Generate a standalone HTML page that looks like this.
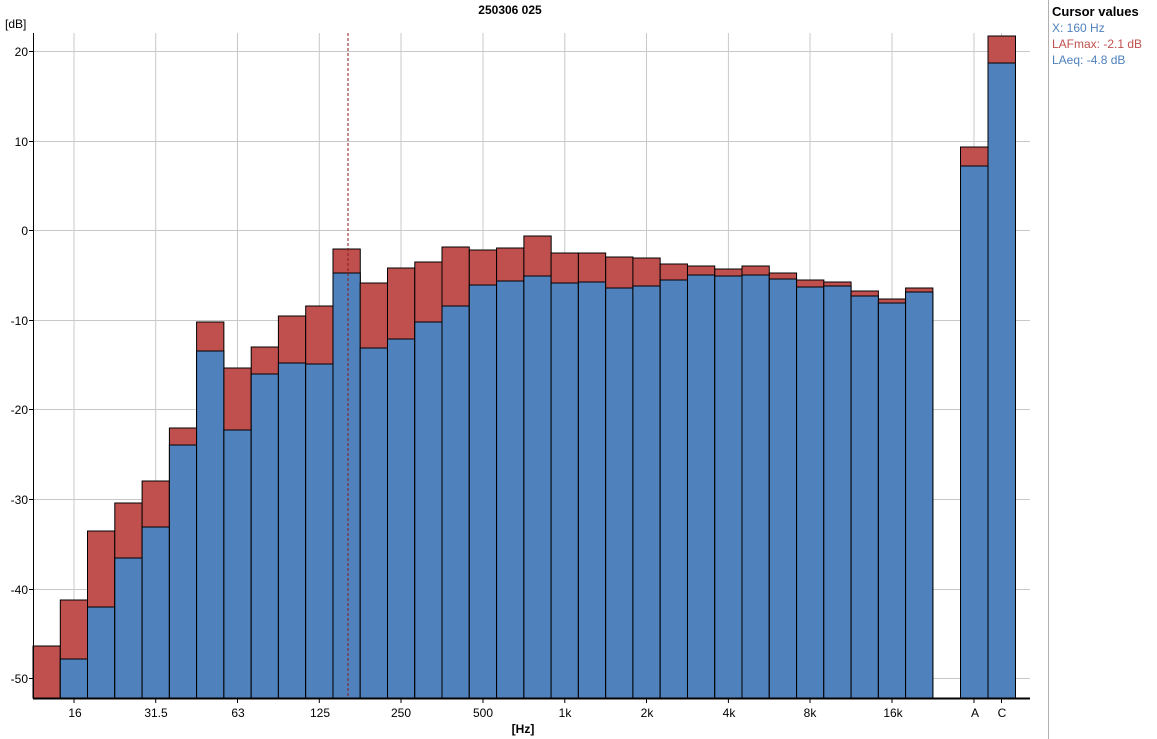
<!DOCTYPE html><html><head><meta charset="utf-8"><style>body{margin:0;background:#fff}svg{display:block;font-family:"Liberation Sans","DejaVu Sans",sans-serif}</style></head><body>
<svg width="1157" height="739" xmlns="http://www.w3.org/2000/svg">
<rect width="1157" height="739" fill="#fff"/>
<g stroke="#c8c8c8" stroke-width="1">
<line x1="33" y1="51.5" x2="1030" y2="51.5"/><line x1="33" y1="141.5" x2="1030" y2="141.5"/><line x1="33" y1="230.5" x2="1030" y2="230.5"/><line x1="33" y1="320.5" x2="1030" y2="320.5"/><line x1="33" y1="409.5" x2="1030" y2="409.5"/><line x1="33" y1="499.5" x2="1030" y2="499.5"/><line x1="33" y1="589.5" x2="1030" y2="589.5"/><line x1="33" y1="678.5" x2="1030" y2="678.5"/>
<line x1="74" y1="33" x2="74" y2="698"/><line x1="155.7" y1="33" x2="155.7" y2="698"/><line x1="237.5" y1="33" x2="237.5" y2="698"/><line x1="319.3" y1="33" x2="319.3" y2="698"/><line x1="401" y1="33" x2="401" y2="698"/><line x1="483" y1="33" x2="483" y2="698"/><line x1="564.8" y1="33" x2="564.8" y2="698"/><line x1="646.5" y1="33" x2="646.5" y2="698"/><line x1="728.4" y1="33" x2="728.4" y2="698"/><line x1="810" y1="33" x2="810" y2="698"/><line x1="892" y1="33" x2="892" y2="698"/><line x1="974" y1="33" x2="974" y2="698"/><line x1="1001.5" y1="33" x2="1001.5" y2="698"/>
</g>
<g stroke="#000" stroke-width="1">
<rect x="33" y="646" width="27.27" height="52" fill="#c0504d"/>
<rect x="60.3" y="600" width="27.27" height="98" fill="#c0504d"/><rect x="60.3" y="659" width="27.27" height="39" fill="#4f81bd"/>
<rect x="87.5" y="531" width="27.27" height="167" fill="#c0504d"/><rect x="87.5" y="607" width="27.27" height="91" fill="#4f81bd"/>
<rect x="114.8" y="503" width="27.27" height="195" fill="#c0504d"/><rect x="114.8" y="558" width="27.27" height="140" fill="#4f81bd"/>
<rect x="142.1" y="481" width="27.27" height="217" fill="#c0504d"/><rect x="142.1" y="527" width="27.27" height="171" fill="#4f81bd"/>
<rect x="169.4" y="428" width="27.27" height="270" fill="#c0504d"/><rect x="169.4" y="445" width="27.27" height="253" fill="#4f81bd"/>
<rect x="196.6" y="322" width="27.27" height="376" fill="#c0504d"/><rect x="196.6" y="351" width="27.27" height="347" fill="#4f81bd"/>
<rect x="223.9" y="368" width="27.27" height="330" fill="#c0504d"/><rect x="223.9" y="430" width="27.27" height="268" fill="#4f81bd"/>
<rect x="251.2" y="347" width="27.27" height="351" fill="#c0504d"/><rect x="251.2" y="374" width="27.27" height="324" fill="#4f81bd"/>
<rect x="278.4" y="316" width="27.27" height="382" fill="#c0504d"/><rect x="278.4" y="363" width="27.27" height="335" fill="#4f81bd"/>
<rect x="305.7" y="306" width="27.27" height="392" fill="#c0504d"/><rect x="305.7" y="364" width="27.27" height="334" fill="#4f81bd"/>
<rect x="333" y="249" width="27.27" height="449" fill="#c0504d"/><rect x="333" y="273" width="27.27" height="425" fill="#4f81bd"/>
<rect x="360.2" y="283" width="27.27" height="415" fill="#c0504d"/><rect x="360.2" y="348" width="27.27" height="350" fill="#4f81bd"/>
<rect x="387.5" y="268" width="27.27" height="430" fill="#c0504d"/><rect x="387.5" y="339" width="27.27" height="359" fill="#4f81bd"/>
<rect x="414.8" y="262" width="27.27" height="436" fill="#c0504d"/><rect x="414.8" y="322" width="27.27" height="376" fill="#4f81bd"/>
<rect x="442" y="247" width="27.27" height="451" fill="#c0504d"/><rect x="442" y="306" width="27.27" height="392" fill="#4f81bd"/>
<rect x="469.3" y="250" width="27.27" height="448" fill="#c0504d"/><rect x="469.3" y="285" width="27.27" height="413" fill="#4f81bd"/>
<rect x="496.6" y="248" width="27.27" height="450" fill="#c0504d"/><rect x="496.6" y="281" width="27.27" height="417" fill="#4f81bd"/>
<rect x="523.9" y="236" width="27.27" height="462" fill="#c0504d"/><rect x="523.9" y="276" width="27.27" height="422" fill="#4f81bd"/>
<rect x="551.1" y="253" width="27.27" height="445" fill="#c0504d"/><rect x="551.1" y="283" width="27.27" height="415" fill="#4f81bd"/>
<rect x="578.4" y="253" width="27.27" height="445" fill="#c0504d"/><rect x="578.4" y="282" width="27.27" height="416" fill="#4f81bd"/>
<rect x="605.7" y="257" width="27.27" height="441" fill="#c0504d"/><rect x="605.7" y="288" width="27.27" height="410" fill="#4f81bd"/>
<rect x="632.9" y="258" width="27.27" height="440" fill="#c0504d"/><rect x="632.9" y="286" width="27.27" height="412" fill="#4f81bd"/>
<rect x="660.2" y="264" width="27.27" height="434" fill="#c0504d"/><rect x="660.2" y="280" width="27.27" height="418" fill="#4f81bd"/>
<rect x="687.5" y="266" width="27.27" height="432" fill="#c0504d"/><rect x="687.5" y="275" width="27.27" height="423" fill="#4f81bd"/>
<rect x="714.8" y="269" width="27.27" height="429" fill="#c0504d"/><rect x="714.8" y="276" width="27.27" height="422" fill="#4f81bd"/>
<rect x="742" y="266" width="27.27" height="432" fill="#c0504d"/><rect x="742" y="275" width="27.27" height="423" fill="#4f81bd"/>
<rect x="769.3" y="273" width="27.27" height="425" fill="#c0504d"/><rect x="769.3" y="279" width="27.27" height="419" fill="#4f81bd"/>
<rect x="796.6" y="280" width="27.27" height="418" fill="#c0504d"/><rect x="796.6" y="287" width="27.27" height="411" fill="#4f81bd"/>
<rect x="823.8" y="282" width="27.27" height="416" fill="#c0504d"/><rect x="823.8" y="286" width="27.27" height="412" fill="#4f81bd"/>
<rect x="851.1" y="291" width="27.27" height="407" fill="#c0504d"/><rect x="851.1" y="296" width="27.27" height="402" fill="#4f81bd"/>
<rect x="878.4" y="299" width="27.27" height="399" fill="#c0504d"/><rect x="878.4" y="303" width="27.27" height="395" fill="#4f81bd"/>
<rect x="905.6" y="288" width="27.27" height="410" fill="#c0504d"/><rect x="905.6" y="292" width="27.27" height="406" fill="#4f81bd"/>
<rect x="960.5" y="147" width="27.5" height="551" fill="#c0504d"/><rect x="960.5" y="166" width="27.5" height="532" fill="#4f81bd"/>
<rect x="988" y="36" width="27.5" height="662" fill="#c0504d"/><rect x="988" y="63" width="27.5" height="635" fill="#4f81bd"/>
</g>
<line x1="348" y1="33" x2="348" y2="698" stroke="#8b1a1a" stroke-width="1" stroke-dasharray="3,2"/>
<line x1="33.5" y1="33" x2="33.5" y2="698" stroke="#000"/>
<line x1="33" y1="698.5" x2="1030" y2="698.5" stroke="#000" stroke-width="2"/>
<g stroke="#000">
<line x1="29" y1="51.5" x2="33" y2="51.5"/><line x1="29" y1="141.5" x2="33" y2="141.5"/><line x1="29" y1="230.5" x2="33" y2="230.5"/><line x1="29" y1="320.5" x2="33" y2="320.5"/><line x1="29" y1="409.5" x2="33" y2="409.5"/><line x1="29" y1="499.5" x2="33" y2="499.5"/><line x1="29" y1="589.5" x2="33" y2="589.5"/><line x1="29" y1="678.5" x2="33" y2="678.5"/>
<line x1="74" y1="698" x2="74" y2="703"/><line x1="155.7" y1="698" x2="155.7" y2="703"/><line x1="237.5" y1="698" x2="237.5" y2="703"/><line x1="319.3" y1="698" x2="319.3" y2="703"/><line x1="401" y1="698" x2="401" y2="703"/><line x1="483" y1="698" x2="483" y2="703"/><line x1="564.8" y1="698" x2="564.8" y2="703"/><line x1="646.5" y1="698" x2="646.5" y2="703"/><line x1="728.4" y1="698" x2="728.4" y2="703"/><line x1="810" y1="698" x2="810" y2="703"/><line x1="892" y1="698" x2="892" y2="703"/><line x1="974" y1="698" x2="974" y2="703"/><line x1="1001.5" y1="698" x2="1001.5" y2="703"/>
</g>
<g font-size="12" fill="#000" text-anchor="end">
<text x="28" y="56">20</text><text x="28" y="146">10</text><text x="28" y="235">0</text><text x="28" y="325">-10</text><text x="28" y="414">-20</text><text x="28" y="504">-30</text><text x="28" y="594">-40</text><text x="28" y="683">-50</text>
</g>
<g font-size="12" fill="#000" text-anchor="middle">
<text x="75" y="717">16</text><text x="156" y="717">31.5</text><text x="238" y="717">63</text><text x="320" y="717">125</text><text x="401" y="717">250</text><text x="483" y="717">500</text><text x="565" y="717">1k</text><text x="647" y="717">2k</text><text x="729" y="717">4k</text><text x="810" y="717">8k</text><text x="893" y="717">16k</text><text x="975" y="717">A</text><text x="1002" y="717">C</text>
<text x="523" y="733" font-weight="bold">[Hz]</text>
<text x="510" y="14" font-weight="bold">250306 025</text>
</g>
<text x="5" y="28" font-size="12" fill="#000">[dB]</text>
<line x1="1048.5" y1="0" x2="1048.5" y2="739" stroke="#b0b0b0"/>
<text x="1052" y="16" font-size="13" font-weight="bold" fill="#000">Cursor values</text>
<text x="1052" y="32" font-size="12" fill="#4f81bd">X: 160 Hz</text>
<text x="1052" y="48" font-size="12" fill="#c0504d">LAFmax: -2.1 dB</text>
<text x="1052" y="64" font-size="12" fill="#4f81bd">LAeq: -4.8 dB</text>
</svg>
</body></html>
